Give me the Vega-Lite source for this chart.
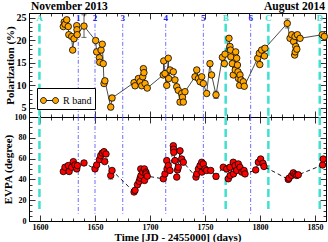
{
  "$schema": "https://vega.github.io/schema/vega-lite/v6.json",
  "padding": {"left": 1, "top": 0, "right": 2, "bottom": 0},
  "background": "white",
  "spacing": 0,
  "bounds": "flush",
  "resolve": {"legend": {"fill": "independent"}},
  "datasets": {
    "pol": [
      {"t":1621.2,"p":23.0,"pe":0.4,"band":"R band"},
      {"t":1622.0,"p":24.0,"pe":0.4,"band":"R band"},
      {"t":1622.7,"p":23.5,"pe":0.4,"band":"R band"},
      {"t":1624.3,"p":24.5,"pe":0.4,"band":"R band"},
      {"t":1625.7,"p":23.0,"pe":0.4,"band":"R band"},
      {"t":1626.2,"p":21.2,"pe":0.4,"band":"R band"},
      {"t":1628.8,"p":20.8,"pe":0.4,"band":"R band"},
      {"t":1629.7,"p":17.8,"pe":0.4,"band":"R band"},
      {"t":1630.9,"p":20.3,"pe":0.4,"band":"R band"},
      {"t":1633.4,"p":23.2,"pe":0.4,"band":"R band"},
      {"t":1633.6,"p":22.3,"pe":0.4,"band":"R band"},
      {"t":1633.8,"p":21.2,"pe":0.4,"band":"R band"},
      {"t":1640.0,"p":23.1,"pe":2.5,"band":"R band"},
      {"t":1650.6,"p":19.9,"pe":0.4,"band":"R band"},
      {"t":1651.5,"p":17.4,"pe":0.4,"band":"R band"},
      {"t":1654.0,"p":16.1,"pe":0.4,"band":"R band"},
      {"t":1654.3,"p":15.1,"pe":0.4,"band":"R band"},
      {"t":1655.5,"p":17.8,"pe":0.4,"band":"R band"},
      {"t":1656.6,"p":19.1,"pe":0.4,"band":"R band"},
      {"t":1657.5,"p":14.8,"pe":0.4,"band":"R band"},
      {"t":1658.2,"p":10.4,"pe":0.4,"band":"R band"},
      {"t":1659.0,"p":11.0,"pe":0.4,"band":"R band"},
      {"t":1664.3,"p":5.2,"pe":0.6,"band":"R band"},
      {"t":1665.5,"p":7.2,"pe":0.6,"band":"R band"},
      {"t":1685.5,"p":10.6,"pe":0.4,"band":"R band"},
      {"t":1686.4,"p":9.9,"pe":0.4,"band":"R band"},
      {"t":1689.4,"p":11.5,"pe":0.4,"band":"R band"},
      {"t":1691.0,"p":10.8,"pe":0.4,"band":"R band"},
      {"t":1692.5,"p":9.9,"pe":0.4,"band":"R band"},
      {"t":1693.4,"p":11.9,"pe":0.4,"band":"R band"},
      {"t":1694.0,"p":13.7,"pe":0.4,"band":"R band"},
      {"t":1694.5,"p":12.8,"pe":0.4,"band":"R band"},
      {"t":1695.5,"p":10.4,"pe":0.4,"band":"R band"},
      {"t":1697.5,"p":9.4,"pe":0.4,"band":"R band"},
      {"t":1712.0,"p":12.3,"pe":0.4,"band":"R band"},
      {"t":1712.5,"p":15.4,"pe":0.4,"band":"R band"},
      {"t":1713.6,"p":12.6,"pe":0.4,"band":"R band"},
      {"t":1715.2,"p":10.0,"pe":0.4,"band":"R band"},
      {"t":1716.6,"p":16.0,"pe":0.4,"band":"R band"},
      {"t":1717.0,"p":11.5,"pe":0.4,"band":"R band"},
      {"t":1718.2,"p":13.4,"pe":0.4,"band":"R band"},
      {"t":1721.2,"p":13.0,"pe":0.4,"band":"R band"},
      {"t":1722.7,"p":11.2,"pe":0.4,"band":"R band"},
      {"t":1724.3,"p":9.7,"pe":0.4,"band":"R band"},
      {"t":1725.7,"p":8.9,"pe":0.4,"band":"R band"},
      {"t":1727.3,"p":6.3,"pe":0.4,"band":"R band"},
      {"t":1728.8,"p":8.2,"pe":0.4,"band":"R band"},
      {"t":1729.5,"p":7.4,"pe":0.4,"band":"R band"},
      {"t":1730.3,"p":6.3,"pe":0.4,"band":"R band"},
      {"t":1731.8,"p":8.6,"pe":0.4,"band":"R band"},
      {"t":1740.9,"p":11.9,"pe":0.4,"band":"R band"},
      {"t":1742.5,"p":13.4,"pe":0.4,"band":"R band"},
      {"t":1744.0,"p":11.5,"pe":0.4,"band":"R band"},
      {"t":1745.5,"p":10.8,"pe":0.4,"band":"R band"},
      {"t":1747.0,"p":11.9,"pe":0.4,"band":"R band"},
      {"t":1748.5,"p":10.4,"pe":0.4,"band":"R band"},
      {"t":1751.5,"p":8.2,"pe":0.4,"band":"R band"},
      {"t":1754.5,"p":14.8,"pe":0.5,"band":"R band"},
      {"t":1756.0,"p":12.3,"pe":0.4,"band":"R band"},
      {"t":1760.0,"p":7.9,"pe":0.8,"band":"R band"},
      {"t":1765.8,"p":16.2,"pe":0.4,"band":"R band"},
      {"t":1767.6,"p":14.8,"pe":0.4,"band":"R band"},
      {"t":1768.2,"p":16.9,"pe":0.4,"band":"R band"},
      {"t":1771.8,"p":20.4,"pe":0.4,"band":"R band"},
      {"t":1772.7,"p":18.6,"pe":0.4,"band":"R band"},
      {"t":1773.2,"p":17.8,"pe":0.4,"band":"R band"},
      {"t":1773.5,"p":16.3,"pe":0.4,"band":"R band"},
      {"t":1774.8,"p":14.8,"pe":0.4,"band":"R band"},
      {"t":1775.7,"p":12.3,"pe":0.4,"band":"R band"},
      {"t":1777.5,"p":13.4,"pe":0.4,"band":"R band"},
      {"t":1777.9,"p":17.4,"pe":0.4,"band":"R band"},
      {"t":1778.8,"p":16.0,"pe":0.4,"band":"R band"},
      {"t":1779.5,"p":14.5,"pe":0.4,"band":"R band"},
      {"t":1780.0,"p":13.0,"pe":0.4,"band":"R band"},
      {"t":1780.5,"p":11.5,"pe":0.4,"band":"R band"},
      {"t":1781.5,"p":10.0,"pe":0.4,"band":"R band"},
      {"t":1781.8,"p":12.3,"pe":0.4,"band":"R band"},
      {"t":1782.7,"p":11.2,"pe":0.4,"band":"R band"},
      {"t":1784.8,"p":10.8,"pe":0.4,"band":"R band"},
      {"t":1785.7,"p":9.8,"pe":0.4,"band":"R band"},
      {"t":1797.9,"p":16.0,"pe":0.4,"band":"R band"},
      {"t":1799.4,"p":17.1,"pe":0.4,"band":"R band"},
      {"t":1799.8,"p":14.6,"pe":0.4,"band":"R band"},
      {"t":1801.5,"p":17.8,"pe":0.4,"band":"R band"},
      {"t":1804.0,"p":16.5,"pe":0.4,"band":"R band"},
      {"t":1804.5,"p":18.2,"pe":0.4,"band":"R band"},
      {"t":1824.8,"p":23.7,"pe":1.0,"band":"R band"},
      {"t":1827.3,"p":20.4,"pe":0.4,"band":"R band"},
      {"t":1828.8,"p":21.2,"pe":0.4,"band":"R band"},
      {"t":1830.5,"p":19.7,"pe":0.4,"band":"R band"},
      {"t":1831.5,"p":16.7,"pe":0.4,"band":"R band"},
      {"t":1831.8,"p":20.8,"pe":0.4,"band":"R band"},
      {"t":1832.0,"p":17.4,"pe":0.4,"band":"R band"},
      {"t":1832.5,"p":18.6,"pe":0.4,"band":"R band"},
      {"t":1833.5,"p":18.0,"pe":0.4,"band":"R band"},
      {"t":1834.0,"p":21.2,"pe":0.4,"band":"R band"},
      {"t":1836.4,"p":20.4,"pe":0.4,"band":"R band"},
      {"t":1856.6,"p":21.2,"pe":0.4,"band":"R band"},
      {"t":1858.5,"p":20.8,"pe":0.4,"band":"R band"}
    ],
    "evpa": [
      {"t":1621.2,"e":47.6,"ee":1.2},
      {"t":1622.7,"e":51.7,"ee":1.2},
      {"t":1625.7,"e":53.3,"ee":1.2},
      {"t":1626.5,"e":47.6,"ee":1.2},
      {"t":1628.8,"e":51.7,"ee":1.2},
      {"t":1630.3,"e":57.1,"ee":1.2},
      {"t":1631.8,"e":53.9,"ee":1.2},
      {"t":1633.4,"e":50.1,"ee":1.2},
      {"t":1634.0,"e":53.3,"ee":1.2},
      {"t":1640.0,"e":55.8,"ee":2.0},
      {"t":1650.0,"e":50.1,"ee":1.2},
      {"t":1651.5,"e":53.9,"ee":1.2},
      {"t":1654.0,"e":59.0,"ee":1.2},
      {"t":1655.2,"e":62.9,"ee":1.2},
      {"t":1656.6,"e":65.3,"ee":1.2},
      {"t":1658.2,"e":66.7,"ee":1.2},
      {"t":1658.8,"e":57.1,"ee":1.2},
      {"t":1660.0,"e":64.4,"ee":1.2},
      {"t":1664.3,"e":43.8,"ee":3.5},
      {"t":1665.5,"e":48.6,"ee":1.5},
      {"t":1685.5,"e":27.9,"ee":1.2},
      {"t":1686.4,"e":29.5,"ee":1.2},
      {"t":1688.6,"e":34.9,"ee":1.2},
      {"t":1690.1,"e":38.1,"ee":1.2},
      {"t":1691.0,"e":41.2,"ee":1.2},
      {"t":1691.6,"e":50.1,"ee":1.2},
      {"t":1691.8,"e":43.8,"ee":1.2},
      {"t":1693.4,"e":47.0,"ee":1.2},
      {"t":1694.9,"e":50.1,"ee":1.2},
      {"t":1695.0,"e":39.0,"ee":1.2},
      {"t":1696.3,"e":47.0,"ee":1.2},
      {"t":1696.4,"e":45.3,"ee":1.2},
      {"t":1697.5,"e":43.1,"ee":1.2},
      {"t":1712.1,"e":40.6,"ee":1.2},
      {"t":1713.6,"e":45.3,"ee":1.2},
      {"t":1715.2,"e":58.1,"ee":1.2},
      {"t":1715.5,"e":50.1,"ee":1.2},
      {"t":1716.6,"e":53.3,"ee":1.2},
      {"t":1718.2,"e":48.6,"ee":1.2},
      {"t":1721.2,"e":72.4,"ee":1.2},
      {"t":1721.4,"e":69.1,"ee":1.2},
      {"t":1721.6,"e":66.0,"ee":1.2},
      {"t":1722.7,"e":58.1,"ee":1.2},
      {"t":1724.3,"e":42.2,"ee":1.2},
      {"t":1725.0,"e":49.1,"ee":1.2},
      {"t":1725.7,"e":51.7,"ee":1.2},
      {"t":1727.3,"e":67.5,"ee":1.2},
      {"t":1728.8,"e":59.6,"ee":1.2},
      {"t":1730.3,"e":56.5,"ee":1.2},
      {"t":1741.8,"e":42.2,"ee":1.2},
      {"t":1742.5,"e":45.3,"ee":1.2},
      {"t":1744.0,"e":50.1,"ee":1.2},
      {"t":1745.5,"e":53.3,"ee":1.2},
      {"t":1747.0,"e":56.5,"ee":1.2},
      {"t":1747.2,"e":47.0,"ee":1.2},
      {"t":1748.5,"e":54.9,"ee":1.2},
      {"t":1750.0,"e":50.1,"ee":1.2},
      {"t":1751.5,"e":48.6,"ee":1.2},
      {"t":1755.2,"e":48.6,"ee":1.2},
      {"t":1760.0,"e":42.9,"ee":2.5},
      {"t":1766.6,"e":51.7,"ee":1.2},
      {"t":1769.7,"e":50.1,"ee":1.2},
      {"t":1771.2,"e":40.6,"ee":1.2},
      {"t":1772.7,"e":51.7,"ee":1.2},
      {"t":1772.9,"e":43.8,"ee":1.2},
      {"t":1775.7,"e":56.5,"ee":1.2},
      {"t":1775.9,"e":45.3,"ee":1.2},
      {"t":1777.3,"e":53.3,"ee":1.2},
      {"t":1778.8,"e":48.6,"ee":1.2},
      {"t":1780.3,"e":54.9,"ee":1.2},
      {"t":1781.8,"e":51.7,"ee":1.2},
      {"t":1783.4,"e":47.0,"ee":1.2},
      {"t":1785.5,"e":48.6,"ee":1.2},
      {"t":1786.4,"e":45.3,"ee":1.2},
      {"t":1796.1,"e":49.1,"ee":1.2},
      {"t":1798.5,"e":56.5,"ee":1.2},
      {"t":1800.6,"e":59.6,"ee":1.2},
      {"t":1802.7,"e":55.5,"ee":1.2},
      {"t":1803.6,"e":52.4,"ee":1.2},
      {"t":1825.7,"e":40.0,"ee":1.2},
      {"t":1826.4,"e":41.2,"ee":1.2},
      {"t":1828.8,"e":43.8,"ee":1.2},
      {"t":1830.3,"e":46.3,"ee":1.2},
      {"t":1831.8,"e":44.8,"ee":1.2},
      {"t":1833.4,"e":43.8,"ee":1.2},
      {"t":1834.8,"e":44.4,"ee":1.2},
      {"t":1856.9,"e":53.9,"ee":1.2},
      {"t":1857.5,"e":59.6,"ee":1.2}
    ],
    "letters": [
      {"t":1599.5,"name":"A"},
      {"t":1768.8,"name":"B"},
      {"t":1807.6,"name":"C"},
      {"t":1854.3,"name":"D"}
    ],
    "numbers": [
      {"t":1634.8,"name":"1"},
      {"t":1650.0,"name":"2"},
      {"t":1675.2,"name":"3"},
      {"t":1714.3,"name":"4"},
      {"t":1748.5,"name":"5"},
      {"t":1791.5,"name":"6"}
    ],
    "months": [
      {"t":1590,"label":"November 2013"}
    ],
    "months2": [
      {"t":1860,"label":"August 2014"}
    ]
  },
  "vconcat": [
    {
      "width": 297,
      "height": 104,
      "layer": [
        {
          "data": {"name": "letters"},
          "mark": {"type": "rule", "color": "#40E0D0", "strokeWidth": 2.5, "strokeDash": [8, 4]},
          "encoding": {
            "x": {"field": "t", "type": "quantitative", "scale": {"domain": [1590, 1860], "nice": false},
              "axis": {"orient": "top", "title": null, "labels": false, "values": [1590,1600,1610,1620,1630,1640,1650,1660,1670,1680,1690,1700,1710,1720,1730,1740,1750,1760,1770,1780,1790,1800,1810,1820,1830,1840,1850,1860],
                "tickSize": {"condition": {"test": "datum.value % 50 === 0", "value": -6}, "value": -3}}},
            "y": {"datum": 23.6, "type": "quantitative", "scale": {"domain": [3, 26], "nice": false, "zero": false},
              "axis": {"orient": "right", "title": null, "labels": false, "values": [3,4,5,6,7,8,9,10,11,12,13,14,15,16,17,18,19,20,21,22,23,24,25,26],
                "tickSize": {"condition": {"test": "datum.value % 5 === 0", "value": -6}, "value": -3}}},
            "y2": {"datum": 3}
          }
        },
        {
          "data": {"name": "numbers"},
          "mark": {"type": "rule", "color": "#4a4aff", "strokeWidth": 0.8, "strokeDash": [4, 2, 1, 2]},
          "encoding": {
            "x": {"field": "t", "type": "quantitative", "scale": {"domain": [1590, 1860], "nice": false}, "axis": null},
            "y": {"datum": 23.6, "type": "quantitative", "scale": {"domain": [3, 26], "nice": false, "zero": false}, "axis": null},
            "y2": {"datum": 3}
          }
        },
        {
          "data": {"name": "letters"},
          "mark": {"type": "text", "color": "#40E0D0", "font": "Liberation Serif", "fontWeight": "bold", "fontSize": 9, "baseline": "middle"},
          "encoding": {
            "x": {"field": "t", "type": "quantitative", "scale": {"domain": [1590, 1860], "nice": false}, "axis": null},
            "y": {"datum": 24.8, "type": "quantitative", "scale": {"domain": [3, 26], "nice": false, "zero": false}, "axis": null},
            "text": {"field": "name"}
          }
        },
        {
          "data": {"name": "numbers"},
          "mark": {"type": "text", "color": "#2020ee", "font": "Liberation Serif", "fontWeight": "bold", "fontSize": 9, "baseline": "middle"},
          "encoding": {
            "x": {"field": "t", "type": "quantitative", "scale": {"domain": [1590, 1860], "nice": false}, "axis": null},
            "y": {"datum": 24.8, "type": "quantitative", "scale": {"domain": [3, 26], "nice": false, "zero": false}, "axis": null},
            "text": {"field": "name"}
          }
        },
        {
          "data": {"name": "pol"},
          "mark": {"type": "line", "color": "black", "strokeWidth": 0.7},
          "encoding": {
            "x": {"field": "t", "type": "quantitative", "scale": {"domain": [1590, 1860], "nice": false}, "axis": null},
            "y": {"field": "p", "type": "quantitative", "scale": {"domain": [3, 26], "nice": false, "zero": false}, "axis": null}
          }
        },
        {
          "data": {"name": "pol"},
          "mark": {"type": "errorbar", "ticks": {"size": 5, "color": "#333"}, "rule": {"color": "#333", "strokeWidth": 0.8}},
          "encoding": {
            "x": {"field": "t", "type": "quantitative", "scale": {"domain": [1590, 1860], "nice": false}, "axis": null},
            "y": {"field": "p", "type": "quantitative", "scale": {"domain": [3, 26], "nice": false, "zero": false}, "axis": null},
            "yError": {"field": "pe"}
          }
        },
        {
          "data": {"name": "pol"},
          "mark": {"type": "point", "shape": "circle", "filled": true, "size": 42, "stroke": "black", "strokeWidth": 0.8, "opacity": 1},
          "encoding": {
            "x": {"field": "t", "type": "quantitative", "scale": {"domain": [1590, 1860], "nice": false},
              "axis": {"orient": "bottom", "title": null, "labels": false, "values": [1590,1600,1610,1620,1630,1640,1650,1660,1670,1680,1690,1700,1710,1720,1730,1740,1750,1760,1770,1780,1790,1800,1810,1820,1830,1840,1850,1860],
                "tickSize": {"condition": {"test": "datum.value % 50 === 0", "value": -6}, "value": -3}}},
            "y": {"field": "p", "type": "quantitative", "scale": {"domain": [3, 26], "nice": false, "zero": false},
              "axis": {"orient": "left", "title": "Polarization (%)", "titleFontSize": 11, "labelFontSize": 10, "titlePadding": 1, "labelPadding": 9,
                "values": [3,4,5,6,7,8,9,10,11,12,13,14,15,16,17,18,19,20,21,22,23,24,25,26],
                "labelExpr": "datum.value % 5 === 0 ? datum.label : ''",
                "tickSize": {"condition": {"test": "datum.value % 5 === 0", "value": -6}, "value": -3}}},
            "fill": {"field": "band", "type": "nominal", "scale": {"range": ["#FFA500"]},
              "legend": {"orient": "bottom-left", "offset": 8, "title": null, "strokeColor": "black", "padding": 3,
                "symbolType": "M-1,0A0.33,0.33 0 1,0 -0.34,0A0.33,0.33 0 1,0 -1,0Z M-0.34,0H0.34 M0.34,0A0.33,0.33 0 1,0 1,0A0.33,0.33 0 1,0 0.34,0Z",
                "symbolSize": 324, "symbolStrokeColor": "black", "symbolStrokeWidth": 0.9, "symbolFillColor": "#FFA500",
                "labelFont": "Liberation Serif", "labelFontSize": 10, "labelFontWeight": "normal", "labelColor": "black", "cornerRadius": 0, "fillColor": "white"}}
          }
        },
        {
          "data": {"name": "months"},
          "mark": {"type": "text", "align": "left", "baseline": "bottom", "dy": -1, "dx": 2, "font": "Liberation Serif", "fontWeight": "bold", "fontSize": 11.5, "color": "black"},
          "encoding": {
            "x": {"field": "t", "type": "quantitative", "scale": {"domain": [1590, 1860], "nice": false}, "axis": null},
            "y": {"datum": 26, "type": "quantitative", "scale": {"domain": [3, 26], "nice": false, "zero": false}, "axis": null},
            "text": {"field": "label"}
          }
        },
        {
          "data": {"name": "months2"},
          "mark": {"type": "text", "align": "right", "baseline": "bottom", "dy": -1, "dx": -1, "font": "Liberation Serif", "fontWeight": "bold", "fontSize": 11.5, "color": "black"},
          "encoding": {
            "x": {"field": "t", "type": "quantitative", "scale": {"domain": [1590, 1860], "nice": false}, "axis": null},
            "y": {"datum": 26, "type": "quantitative", "scale": {"domain": [3, 26], "nice": false, "zero": false}, "axis": null},
            "text": {"field": "label"}
          }
        }
      ],
      "resolve": {"axis": {"x": "independent", "y": "independent"}}
    },
    {
      "width": 297,
      "height": 104,
      "layer": [
        {
          "data": {"name": "letters"},
          "mark": {"type": "rule", "color": "#40E0D0", "strokeWidth": 2.5, "strokeDash": [8, 4]},
          "encoding": {
            "x": {"field": "t", "type": "quantitative", "scale": {"domain": [1590, 1860], "nice": false},
              "axis": {"orient": "top", "title": null, "labels": false, "values": [1590,1600,1610,1620,1630,1640,1650,1660,1670,1680,1690,1700,1710,1720,1730,1740,1750,1760,1770,1780,1790,1800,1810,1820,1830,1840,1850,1860],
                "tickSize": {"condition": {"test": "datum.value % 50 === 0", "value": -6}, "value": -3}}},
            "y": {"datum": 100, "type": "quantitative", "scale": {"domain": [0, 100], "nice": false},
              "axis": {"orient": "right", "title": null, "labels": false, "values": [0,5,10,15,20,25,30,35,40,45,50,55,60,65,70,75,80,85,90,95,100],
                "tickSize": {"condition": {"test": "datum.value % 20 === 0", "value": -6}, "value": -3}}},
            "y2": {"datum": 8}
          }
        },
        {
          "data": {"name": "numbers"},
          "mark": {"type": "rule", "color": "#4a4aff", "strokeWidth": 0.8, "strokeDash": [4, 2, 1, 2]},
          "encoding": {
            "x": {"field": "t", "type": "quantitative", "scale": {"domain": [1590, 1860], "nice": false}, "axis": null},
            "y": {"datum": 100, "type": "quantitative", "scale": {"domain": [0, 100], "nice": false}, "axis": null},
            "y2": {"datum": 7}
          }
        },
        {
          "data": {"name": "evpa"},
          "mark": {"type": "line", "color": "black", "strokeWidth": 0.9, "strokeDash": [4, 3]},
          "encoding": {
            "x": {"field": "t", "type": "quantitative", "scale": {"domain": [1590, 1860], "nice": false}, "axis": null},
            "y": {"field": "e", "type": "quantitative", "scale": {"domain": [0, 100], "nice": false}, "axis": null}
          }
        },
        {
          "data": {"name": "evpa"},
          "mark": {"type": "errorbar", "ticks": {"size": 5, "color": "#333"}, "rule": {"color": "#333", "strokeWidth": 0.8}},
          "encoding": {
            "x": {"field": "t", "type": "quantitative", "scale": {"domain": [1590, 1860], "nice": false}, "axis": null},
            "y": {"field": "e", "type": "quantitative", "scale": {"domain": [0, 100], "nice": false}, "axis": null},
            "yError": {"field": "ee"}
          }
        },
        {
          "data": {"name": "evpa"},
          "mark": {"type": "point", "shape": "circle", "filled": true, "size": 42, "fill": "#FF0000", "stroke": "black", "strokeWidth": 0.8, "opacity": 1},
          "encoding": {
            "x": {"field": "t", "type": "quantitative", "scale": {"domain": [1590, 1860], "nice": false},
              "axis": {"orient": "bottom", "title": "Time [JD - 2455000] (days)", "titleFontSize": 11, "labelFontSize": 8, "titlePadding": 0, "labelPadding": 8.5, "format": "d",
                "values": [1590,1600,1610,1620,1630,1640,1650,1660,1670,1680,1690,1700,1710,1720,1730,1740,1750,1760,1770,1780,1790,1800,1810,1820,1830,1840,1850,1860],
                "labelExpr": "datum.value % 50 === 0 ? datum.label : ''",
                "tickSize": {"condition": {"test": "datum.value % 50 === 0", "value": -6}, "value": -3}}},
            "y": {"field": "e", "type": "quantitative", "scale": {"domain": [0, 100], "nice": false},
              "axis": {"orient": "left", "title": "EVPA (degree)", "titleFontSize": 11, "labelFontSize": 8, "titlePadding": 1, "labelPadding": 9,
                "values": [0,5,10,15,20,25,30,35,40,45,50,55,60,65,70,75,80,85,90,95,100],
                "labelExpr": "datum.value % 20 === 0 ? datum.label : ''",
                "tickSize": {"condition": {"test": "datum.value % 20 === 0", "value": -6}, "value": -3}}}
          }
        }
      ],
      "resolve": {"axis": {"x": "independent", "y": "independent"}}
    }
  ],
  "config": {
    "font": "Liberation Serif",
    "view": {"stroke": "black", "strokeWidth": 1},
    "axis": {"domain": false, "grid": false, "labelFont": "Liberation Serif", "labelFontWeight": "bold", "labelColor": "black",
      "titleFont": "Liberation Serif", "titleFontWeight": "bold", "titleColor": "black", "tickColor": "black", "tickWidth": 0.8, "labelPadding": 2}
  }
}
